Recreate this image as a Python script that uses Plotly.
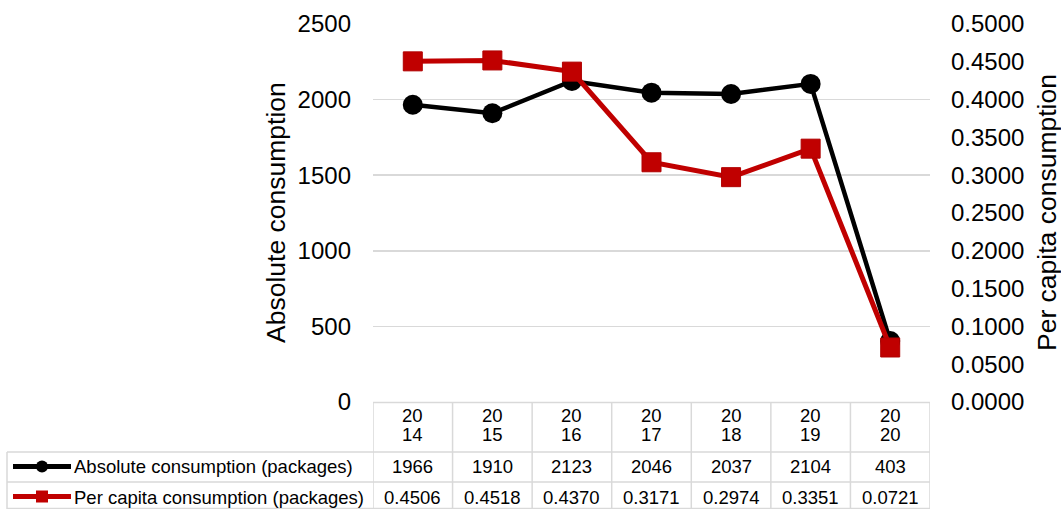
import plotly.graph_objects as go

years = ["2014", "2015", "2016", "2017", "2018", "2019", "2020"]
absolute = [1966, 1910, 2123, 2046, 2037, 2104, 403]
per_capita = [0.4506, 0.4518, 0.4370, 0.3171, 0.2974, 0.3351, 0.0721]
abs_name = "Absolute consumption (packages)"
pc_name = "Per capita consumption (packages)"

W, H = 1061, 509
L, R, T, B = 373, 930, 24, 402
FONT = "Liberation Sans, Arial, sans-serif"
BLACK = "#000000"
RED = "#C00000"
GRID = "#D9D9D9"
TFS = 18.5


def px(x):
    return (x - L) / (R - L)


def py(y):
    return (B - y) / (B - T)


fig = go.Figure()
xs = list(range(len(years)))
fig.add_trace(go.Scatter(
    x=xs, y=absolute, mode="lines+markers", name=abs_name,
    line=dict(color=BLACK, width=4.5),
    marker=dict(symbol="circle", size=20, color=BLACK),
    yaxis="y", showlegend=False, hoverinfo="skip"))
fig.add_trace(go.Scatter(
    x=xs, y=per_capita, mode="lines+markers", name=pc_name,
    line=dict(color=RED, width=5),
    marker=dict(symbol="square", size=19, color=RED,
                line=dict(color="#B00000", width=1)),
    yaxis="y2", showlegend=False, hoverinfo="skip"))

shapes = []
ann = []
lc = dict(color=GRID, width=1.5)
shapes.append(dict(type="line", xref="paper", yref="paper",
                   x0=0, x1=1, y0=py(402.5), y1=py(402.5), line=lc))
for yy in (452, 482, 508.5):
    shapes.append(dict(type="line", xref="paper", yref="paper",
                       x0=px(7), x1=1, y0=py(yy), y1=py(yy), line=lc))
for i in range(len(years) + 1):
    shapes.append(dict(type="line", xref="x", yref="paper",
                       x0=i - 0.5, x1=i - 0.5, y0=py(402.5), y1=py(509), line=lc))
shapes.append(dict(type="line", xref="paper", yref="paper",
                   x0=px(7), x1=px(7), y0=py(452), y1=py(509), line=lc))

for yc, col, sym in ((466.5, BLACK, "circle"), (496.5, RED, "square")):
    shapes.append(dict(type="line", xref="paper", yref="paper",
                       x0=px(13), x1=px(71), y0=py(yc), y1=py(yc),
                       line=dict(color=col, width=5)))
    r = 6
    shapes.append(dict(type=sym if sym == "circle" else "rect",
                       xref="paper", yref="paper",
                       x0=px(42 - r), x1=px(42 + r), y0=py(yc - r), y1=py(yc + r),
                       fillcolor=col, line=dict(color=col, width=0)))

for yc, name in ((467, abs_name), (497, pc_name)):
    ann.append(dict(text=name, xref="paper", yref="paper", x=px(72), y=py(yc),
                    xanchor="left", yanchor="middle", showarrow=False,
                    font=dict(size=TFS, color="#000", family=FONT)))

for i, yr in enumerate(years):
    cells = ((415, yr[:2]), (435, yr[2:]), (467, str(absolute[i])),
             (497, f"{per_capita[i]:.4f}"))
    for yc, txt in cells:
        ann.append(dict(text=txt, xref="x", yref="paper", x=i, y=py(yc),
                        xanchor="center", yanchor="middle", showarrow=False,
                        font=dict(size=TFS, color="#000", family=FONT)))

ann.append(dict(text="Absolute consumption", xref="paper", yref="paper",
                x=px(276), y=py(213), textangle=-90, xanchor="center", yanchor="middle",
                showarrow=False, font=dict(size=26.5, color="#000", family=FONT)))
ann.append(dict(text="Per capita consumption", xref="paper", yref="paper",
                x=px(1047), y=py(213), textangle=-90, xanchor="center", yanchor="middle",
                showarrow=False, font=dict(size=26.5, color="#000", family=FONT)))

fig.update_layout(
    width=W, height=H,
    margin=dict(l=L, r=W - R, t=T, b=H - B, pad=0),
    paper_bgcolor="white", plot_bgcolor="white",
    font=dict(family=FONT, color="#000"),
    hovermode=False,
    xaxis=dict(range=[-0.5, len(years) - 0.5], showticklabels=False, showgrid=False,
               zeroline=False, showline=False, ticks=""),
    yaxis=dict(range=[0, 2500], dtick=500, showgrid=True, gridcolor=GRID, gridwidth=1.5,
               zeroline=False, showline=False, ticks="", ticklabelstandoff=21,
               tickfont=dict(size=24, color="#000", family=FONT), automargin=False),
    yaxis2=dict(range=[0, 0.5], dtick=0.05, tickformat=".4f", overlaying="y", side="right",
                showgrid=False, zeroline=False, showline=False, ticks="",
                ticklabelstandoff=20, automargin=False,
                tickfont=dict(size=24, color="#000", family=FONT)),
    shapes=shapes, annotations=ann,
)

fig.write_html(
    "out.html",
    config={"displayModeBar": False, "staticPlot": True},
    post_script="document.documentElement.style.margin='0';document.body.style.margin='0';"
                "document.body.style.overflow='hidden';document.documentElement.style.overflow='hidden';",
)
